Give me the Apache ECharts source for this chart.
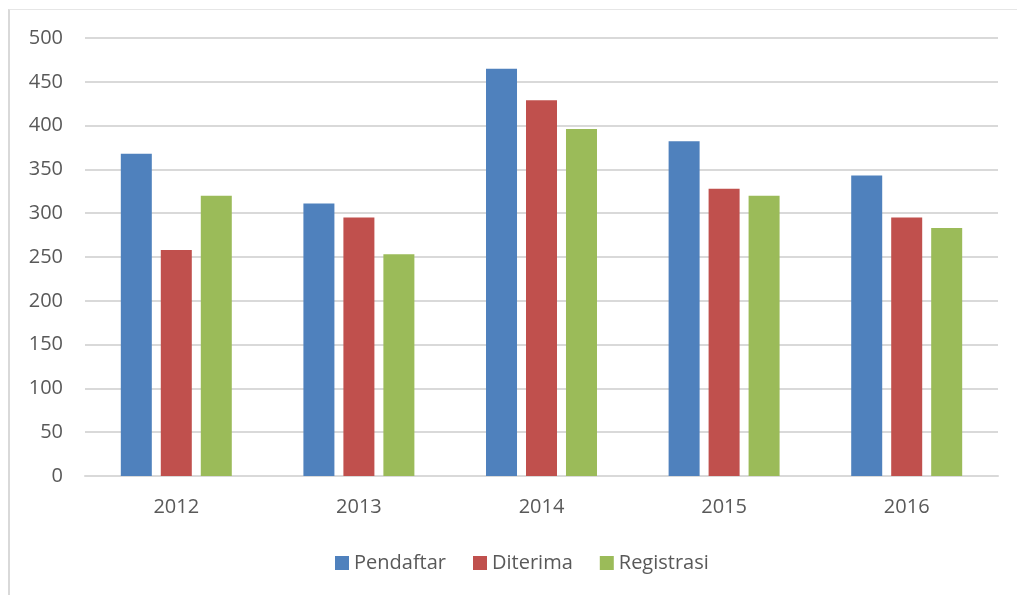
<!DOCTYPE html>
<html>
<head>
<meta charset="utf-8">
<script src="https://cdn.jsdelivr.net/npm/echarts@6/dist/echarts.min.js"></script>
<style>
html,body{margin:0;padding:0;background:#fff;}
#frame{position:absolute;left:8px;top:9px;width:1009px;height:586px;border-left:2px solid #d9d9d9;border-top:1px solid #e6e6e6;box-sizing:border-box;}
#chart{position:absolute;left:0;top:0;width:1017px;height:595px;}
</style>
</head>
<body>
<div id="frame"></div>
<div id="chart"></div>
<script>
const categories = ['2012', '2013', '2014', '2015', '2016'];
const pendaftar = [368, 311, 465, 382, 343];
const diterima = [258, 295, 429, 328, 295];
const registrasi = [320, 253, 396, 320, 283];
const seriesNames = ['Pendaftar', 'Diterima', 'Registrasi'];
const colors = ['#4f81bd', '#c0504d', '#9bbb59'];

const font = '"Open Sans", "Liberation Sans", sans-serif';
const chart = echarts.init(document.getElementById('chart'), null, {renderer: 'canvas'});
const dataSets = [pendaftar, diterima, registrasi];
chart.setOption({
  animation: false,
  color: colors,
  grid: {left: 85, right: 19, top: 38, bottom: 119, containLabel: false},
  legend: {
    data: seriesNames,
    left: 330,
    top: 548,
    itemWidth: 14,
    itemHeight: 14,
    itemGap: 27,
    icon: 'rect',
    textStyle: {fontFamily: font, fontSize: 20, color: '#595959', padding: [0, 0, 0, 0]}
  },
  xAxis: {
    type: 'category',
    data: categories,
    axisLine: {show: true, lineStyle: {color: '#d9d9d9', width: 2}},
    axisTick: {show: false},
    axisLabel: {fontFamily: font, fontSize: 20, color: '#595959', margin: 21}
  },
  yAxis: {
    type: 'value',
    min: 0,
    max: 500,
    interval: 50,
    axisLine: {show: false},
    axisTick: {show: false},
    splitLine: {lineStyle: {color: '#d9d9d9', width: 2}},
    axisLabel: {fontFamily: font, fontSize: 20, color: '#595959', margin: 22}
  },
  series: seriesNames.map((n, i) => ({
    name: n,
    type: 'bar',
    data: dataSets[i],
    barWidth: 31,
    barGap: '29%',
    itemStyle: {color: colors[i]}
  }))
});
</script>
</body>
</html>
